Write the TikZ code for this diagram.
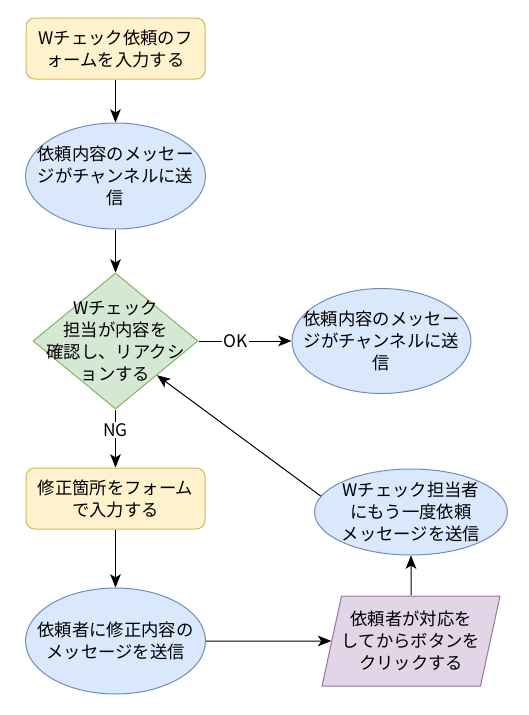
\documentclass[tikz,border=0pt]{standalone}
\usepackage{fontspec}
\setmainfont{Noto Sans CJK JP}
\usetikzlibrary{shapes.geometric}
\usetikzlibrary{arrows.meta}
\definecolor{formfill}{HTML}{FFF2CC}
\definecolor{formline}{HTML}{D6B656}
\definecolor{msgfill}{HTML}{DAE8FC}
\definecolor{msgline}{HTML}{6C8EBF}
\definecolor{checkfill}{HTML}{D5E8D4}
\definecolor{checkline}{HTML}{82B366}
\definecolor{clickfill}{HTML}{E1D5E7}
\definecolor{clickline}{HTML}{9673A6}
\def\px{0.75pt}

\begin{document}
\begin{tikzpicture}[x=\px, y=-\px,
      every node/.style={font=\fontsize{13}{16.5}\selectfont, align=center, text=black},
      flow/.style={line width=\px, -{Stealth[length=10pt, width=8pt, inset=2.5pt]}},
      formbox/.style={rectangle, rounded corners=6.5pt, draw=formline, fill=formfill,
        line width=\px, minimum width=179*\px, minimum height=61*\px, inner sep=0pt},
      msg/.style={ellipse, draw=msgline, fill=msgfill, line width=\px, inner sep=0pt,
        minimum width=180*\px, minimum height=106*\px},
      decision/.style={diamond, draw=checkline, fill=checkfill, line width=\px, inner sep=0pt,
        minimum width=165*\px, minimum height=136*\px},
      manual/.style={trapezium, trapezium left angle=77.5, trapezium right angle=102.5,
        trapezium stretches body=true, draw=clickline, fill=clickfill, line width=\px,
        inner xsep=0pt, inner ysep=10.5pt, minimum width=178*\px, minimum height=90*\px},
      tag/.style={fill=white, inner sep=1pt}
      ]
      \useasboundingbox (0,0) rectangle (529,715);

      % left column
      \node[formbox] (req) at (115.5,48.5) {Wチェック依頼のフ\\ォームを入力する};
      \node[msg, label={center:依頼内容のメッセー\\ジがチャンネルに送\\信}] (post) at (115.5,176) {};
      \node[decision, label={center:Wチェック\\担当が内容を\\確認し、リアクシ\\ョンする}] (check) at (115.5,341) {};
      \node[formbox] (fix) at (115.5,498.5) {修正箇所をフォーム\\で入力する};
      \node[msg, label={center:依頼者に修正内容の\\メッセージを送信}] (notify) at (115.5,641) {};

      % right column
      \node[msg, minimum width=179*\px, minimum height=105*\px,
        label={center:依頼内容のメッセー\\ジがチャンネルに送\\信}] (done) at (381.5,341) {};
      \node[manual] (click) at (411,641) {依頼者が対応を\\してからボタンを\\クリックする};
      \node[msg, minimum width=193*\px, minimum height=86*\px,
        label={center:Wチェック担当者\\にもう一度依頼\\メッセージを送信}] (again) at (411,512) {};

      % connectors
      \draw[flow] (req) -- (post);
      \draw[flow] (post) -- (check);
      \draw[flow] (check) -- node[tag, pos=0.4] (ok) {OK} (done);
      \draw[flow] (check) -- node[tag, pos=0.35] (ng) {NG} (fix);
      \draw[flow] (fix) -- (notify);
      \draw[flow] (notify) -- (click);
      \draw[flow] (click) -- (again);
      \draw[flow] (again.170) -- (check.south east);
    \end{tikzpicture}
\end{document}
